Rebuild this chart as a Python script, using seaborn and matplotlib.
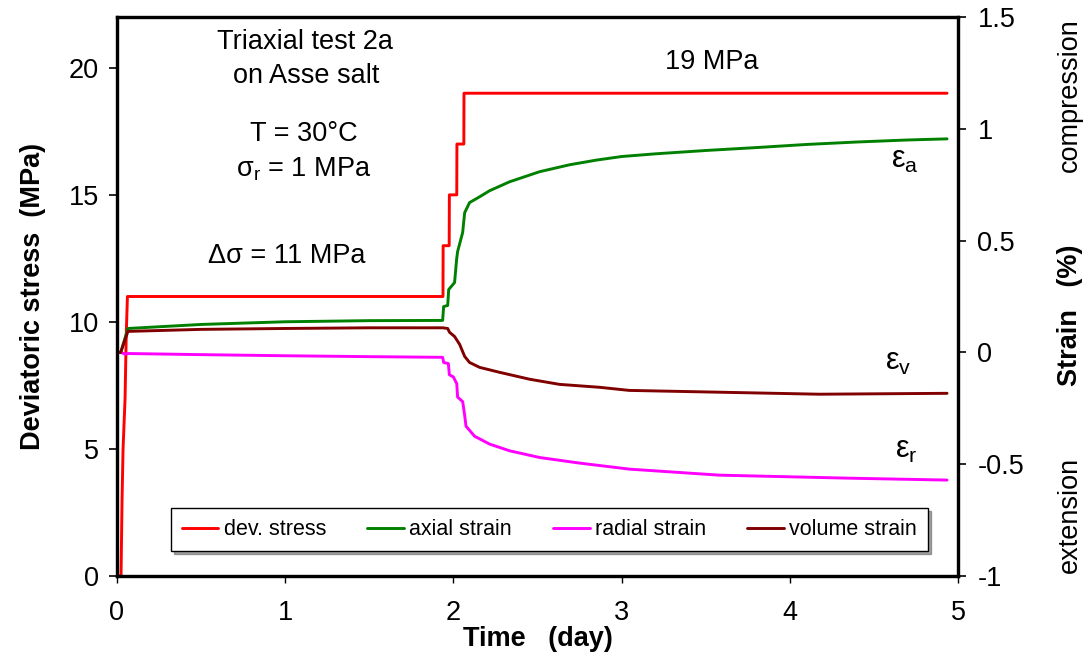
import matplotlib
matplotlib.use("Agg")
import matplotlib.pyplot as plt
import seaborn as sns
from matplotlib.ticker import FuncFormatter, FixedLocator

# ---------------- data ----------------
stress_t = [0.0, 0.024, 0.03, 0.036, 0.048, 0.055, 0.062, 1.938, 1.939, 1.975, 1.976,
            2.020, 2.021, 2.062, 2.063, 4.935]
stress_v = [0.0, 0.0, 3.0, 5.0, 7.0, 9.5, 11.0, 11.0, 13.0, 13.0, 15.0,
            15.0, 17.0, 17.0, 19.0, 19.0]

axial_t = [0.0, 0.022, 0.065, 0.5, 1.0, 1.5, 1.936, 1.942, 1.966, 1.972, 2.007,
           2.019, 2.025, 2.055, 2.067, 2.096, 2.156, 2.215, 2.334, 2.512, 2.69,
           2.85, 3.0, 3.2, 3.5, 3.8, 4.1, 4.4, 4.7, 4.935]
axial_v = [0.0, 0.0, 0.107, 0.125, 0.137, 0.142, 0.143, 0.205, 0.21, 0.281, 0.3125,
           0.415, 0.451, 0.536, 0.625, 0.67, 0.696, 0.723, 0.763, 0.808, 0.839,
           0.86, 0.876, 0.888, 0.903, 0.916, 0.93, 0.941, 0.95, 0.955]

radial_t = [0.0, 0.022, 0.05, 0.065, 0.5, 1.0, 1.5, 1.936, 1.942, 1.97, 1.976,
            2.0, 2.02, 2.025, 2.055, 2.065, 2.075, 2.126, 2.215, 2.334, 2.512,
            2.749, 3.046, 3.581, 4.353, 4.935]
radial_v = [0.0, 0.0, -0.008, -0.005, -0.01, -0.015, -0.019, -0.022, -0.045, -0.05, -0.10,
            -0.11, -0.14, -0.20, -0.22, -0.27, -0.33, -0.375, -0.41, -0.44, -0.47,
            -0.495, -0.522, -0.549, -0.5625, -0.571]

volume_t = [0.0, 0.022, 0.065, 0.5, 1.0, 1.5, 1.936, 1.966, 1.977, 2.007, 2.037,
            2.067, 2.096, 2.156, 2.274, 2.453, 2.631, 2.868, 3.046, 3.58, 4.175, 4.935]
volume_v = [0.0, 0.0, 0.094, 0.103, 0.107, 0.11, 0.11, 0.107, 0.09, 0.071, 0.036,
            -0.018, -0.045, -0.067, -0.089, -0.12, -0.143, -0.156, -0.17, -0.178, -0.187, -0.183]

x_ticks = [0, 1, 2, 3, 4, 5]
left_ticks = [0, 5, 10, 15, 20]
right_ticks = [-1, -0.5, 0, 0.5, 1, 1.5]
series_labels = ["dev. stress", "axial strain", "radial strain", "volume strain"]
series_colors = ["#FF0000", "#008000", "#FF00FF", "#800000"]

# ---------------- style ----------------
sns.set_style("ticks")
plt.rcParams['font.family'] = ['Liberation Sans', 'DejaVu Sans']
plt.rcParams['mathtext.fontset'] = 'custom'
plt.rcParams['mathtext.rm'] = 'Liberation Sans'
plt.rcParams['mathtext.it'] = 'Liberation Sans:italic'
plt.rcParams['mathtext.bf'] = 'Liberation Sans:bold'
for k in ['text.color', 'axes.labelcolor', 'xtick.color', 'ytick.color', 'axes.edgecolor']:
    plt.rcParams[k] = 'black'

FS = 19.5
W, H = 1088, 663
fig = plt.figure(figsize=(W / 100, H / 100), dpi=100)
ax = fig.add_axes([117 / W, 87 / H, 841 / W, 559 / H])
ax2 = ax.twinx()

LW = 2.1
sns.lineplot(x=stress_t, y=stress_v, ax=ax, color=series_colors[0], lw=LW,
             estimator=None, sort=False, legend=False)
for tt, vv, c in [(axial_t, axial_v, series_colors[1]),
                  (radial_t, radial_v, series_colors[2]),
                  (volume_t, volume_v, series_colors[3])]:
    sns.lineplot(x=tt, y=vv, ax=ax2, color=c, lw=LW, estimator=None, sort=False, legend=False)

ax.set_xlim(0, 5)
ax.set_ylim(0, 22)
ax2.set_ylim(-1, 1.5)
ax.xaxis.set_major_locator(FixedLocator(x_ticks))
ax.yaxis.set_major_locator(FixedLocator(left_ticks))
ax2.yaxis.set_major_locator(FixedLocator(right_ticks))
ax2.yaxis.set_major_formatter(FuncFormatter(lambda v, p: f"{v:g}"))

for a in (ax, ax2):
    for s in a.spines.values():
        s.set_linewidth(2.3)
        s.set_color("black")
ax.tick_params(axis='y', labelsize=FS, length=6, width=1.2, pad=7, color='black', labelcolor='black')
ax.tick_params(axis='x', labelsize=FS, length=5, width=1.0, pad=12, color='black', labelcolor='black')
ax2.tick_params(axis='y', labelsize=FS, length=6, width=1.2, pad=8, color='black', labelcolor='black')

ax.set_xlabel("Time   (day)", fontsize=FS, fontweight='bold', labelpad=0, color='black')
ax.set_ylabel("Deviatoric stress  (MPa)", fontsize=FS, fontweight='bold', labelpad=16, color='black')
ax2.set_ylabel("")

# right side labels
fig.text(1070 / W, 1 - 95 / H, "compression", rotation=90, ha='center', va='center',
         fontsize=FS, color='black')
fig.text(1070 / W, 1 - 315 / H, "Strain   (%)", rotation=90, ha='center', va='center',
         fontsize=FS, fontweight='bold', color='black')
fig.text(1070 / W, 1 - 515 / H, "extension", rotation=90, ha='center', va='center',
         fontsize=FS, color='black')

# annotations (figure pixel positions)
def ftxt(px, py, s, size=FS, **kw):
    fig.text(px / W, 1 - py / H, s, ha='center', va='center', fontsize=size, color='black', **kw)

ftxt(305, 42, "Triaxial test 2a")
ftxt(306, 76, "on Asse salt")
ftxt(304, 134, "T = 30°C")
ftxt(304, 169, r"$\mathregular{σ_r}$ = 1 MPa")
ftxt(287, 256, "Δσ = 11 MPa")
ftxt(712, 62, "19 MPa")
ftxt(905, 160, r"$\mathregular{ε_a}$", size=22)
ftxt(898, 362, r"$\mathregular{ε_v}$", size=22)
ftxt(906, 450, r"$\mathregular{ε_r}$", size=22)

# legend
handles = ax.get_lines()[:1] + ax2.get_lines()[:3]
leg = ax2.legend(handles, series_labels, loc='lower left',
                 bbox_to_anchor=(0.064, 0.045, 0.9, 0.078), mode='expand', ncol=4,
                 fontsize=15.5, frameon=True, fancybox=False, shadow=True,
                 borderpad=0.5, handlelength=1.7, handletextpad=0.25,
                 columnspacing=1.5, borderaxespad=0)
leg.get_frame().set_edgecolor('black')
leg.get_frame().set_linewidth(1.0)
for t in leg.get_texts():
    t.set_color('black')

fig.savefig("out.png", dpi=100)
